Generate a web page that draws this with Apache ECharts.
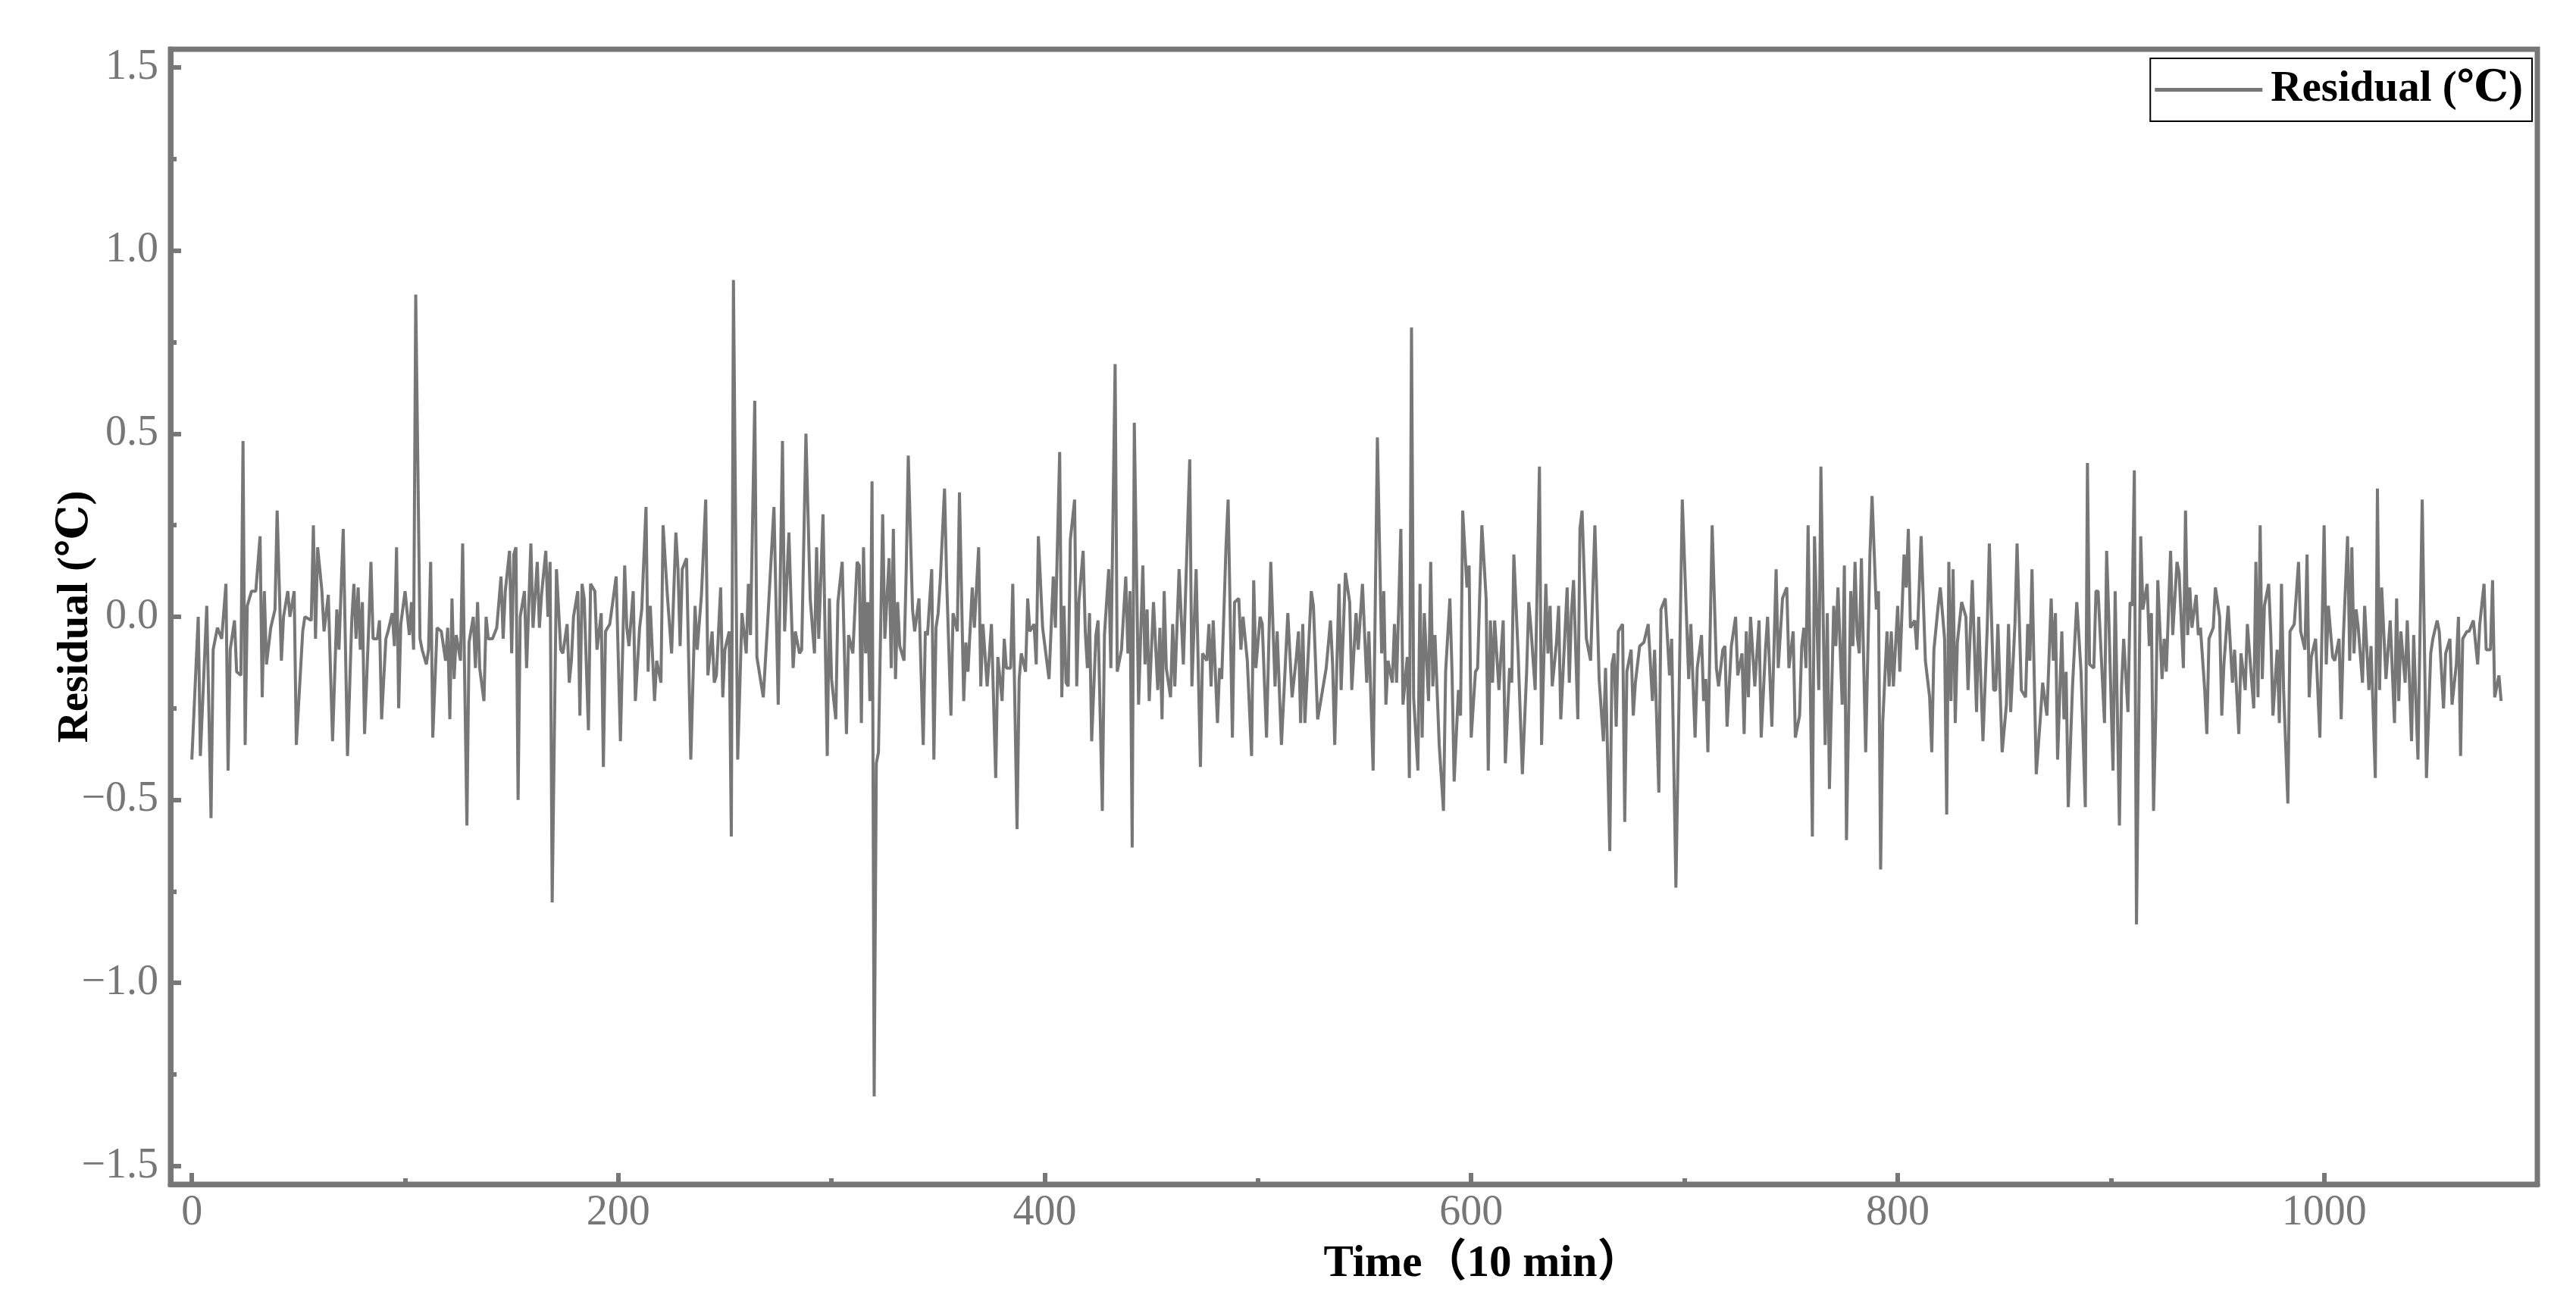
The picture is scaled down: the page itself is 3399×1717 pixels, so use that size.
<!DOCTYPE html>
<html>
<head>
<meta charset="utf-8">
<script src="https://cdn.jsdelivr.net/npm/echarts@6/dist/echarts.min.js"></script>
<style>
html,body{margin:0;padding:0;background:#fff;}
#chart{width:3399px;height:1717px;}
</style>
</head>
<body>
<div id="chart"></div>
<script>
const timeA = [0,3,4,7,9,10,12,14,16,17,
  18,20,21,23,24,25,26,28,30,32,
  33,34,35,37,39,40,42,43,45,46,
  48,49,52,53,56,57,58,59,61,62,
  64,66,68,69,71,73,75,76,77,78,
  79,80,81,83,84,85,87,88,89,91,
  92,94,95,96,97,98,100,102,103,104,
  105,107,108,110,111,112,113,115,117,119,
  120,121,122,123,124,126,127,129,130,132,
  133];
const residualA = [-0.39,0.00,-0.38,0.03,-0.55,-0.09,-0.03,-0.06,0.09,-0.42,
  -0.09,-0.01,-0.15,-0.16,0.48,-0.35,0.03,0.07,0.07,0.22,
  -0.22,0.07,-0.13,-0.03,0.02,0.29,-0.12,0.00,0.07,0.00,
  0.07,-0.35,-0.04,0.00,-0.01,0.25,-0.06,0.19,0.07,-0.04,
  0.06,-0.34,0.02,-0.09,0.24,-0.38,-0.01,0.09,-0.06,0.08,
  -0.09,0.04,-0.32,-0.02,0.15,-0.06,-0.06,-0.01,-0.28,-0.06,
  -0.04,0.01,-0.08,0.19,-0.25,-0.02,0.07,-0.05,0.04,-0.09,
  0.88,-0.06,-0.09,-0.13,-0.09,0.15,-0.33,-0.03,-0.04,-0.12,
  -0.03,-0.28,0.05,-0.17,-0.05,-0.12,0.20,-0.57,-0.07,0.00,
  -0.14];

const timeB = [134,135,137,138,139,141,143,145,146,147,
  149,150,151,152,153,154,156,157,159,160,
  162,163,164,166,167,168,169,171,173,174,
  176,177,178,179,181,182,183,184,186,187,
  189,190,192,193,194,196,199,201,203,204,
  205,207,208,210,211,213,214,215,217,218,
  220,221,223,225,227,228,229,230,232,234,
  236,237,239,241,242,244,245,246,248,249,
  250,252,253,254,256,258,260,261,262,264,
  265,268,270];
const residualB = [0.04,-0.14,-0.23,0.00,-0.06,-0.06,-0.03,0.11,-0.06,0.07,
  0.18,-0.10,0.17,0.19,-0.50,0.00,0.07,-0.14,0.20,-0.03,
  0.15,-0.03,0.06,0.18,0.00,0.15,-0.78,0.13,-0.09,-0.10,
  -0.02,-0.18,-0.12,0.00,0.07,-0.27,0.09,0.05,-0.31,0.09,
  0.07,-0.09,0.01,-0.41,-0.04,-0.02,0.11,-0.34,0.14,-0.03,
  -0.08,0.07,-0.23,-0.03,0.02,0.30,-0.15,0.03,-0.23,-0.12,
  -0.18,0.25,0.06,-0.10,0.23,0.13,-0.08,0.13,0.16,-0.39,
  0.03,-0.09,0.06,0.32,-0.16,-0.04,-0.18,-0.16,0.08,-0.22,
  -0.09,-0.04,-0.60,0.92,-0.39,0.01,-0.10,0.09,-0.05,0.59,
  -0.11,-0.22,-0.02];

const timeC = [273,275,277,278,280,282,283,285,286,288,
  290,292,293,294,296,298,299,300,302,303,
  305,307,308,310,312,313,314,315,316,317,
  318,319,320,321,322,324,325,327,328,329,
  330,331,332,334,335,336,338,339,341,343,
  344,345,347,348,349,350,351,353,354,356,
  357,359,360,362,363,364,366,367,369,370,
  371,373,375,377,378,380,381,382,384,385,
  387,388,389,391,392,393,395,396,397,399,
  402,404,405,407,408,409,410];
const residualC = [0.30,-0.24,0.48,-0.04,0.23,-0.14,-0.04,-0.10,-0.09,0.50,
  0.05,-0.10,0.19,-0.06,0.28,-0.38,0.05,-0.17,-0.28,0.04,
  0.15,-0.32,-0.05,-0.10,0.15,0.14,-0.29,0.19,-0.10,0.04,
  -0.23,0.37,-1.31,-0.40,-0.37,0.28,-0.06,0.16,-0.14,0.24,
  -0.17,0.04,-0.08,-0.12,0.12,0.44,0.02,-0.04,0.05,-0.35,
  -0.04,-0.05,0.13,-0.39,-0.03,0.01,0.10,0.35,0.10,-0.27,
  0.01,-0.04,0.34,-0.23,-0.07,-0.15,0.08,-0.03,0.19,-0.19,
  -0.02,-0.19,-0.02,-0.44,-0.11,-0.23,-0.06,-0.14,-0.14,0.09,
  -0.58,-0.17,-0.10,-0.15,0.05,-0.04,-0.02,-0.13,0.22,-0.03,
  -0.17,0.11,-0.03,0.45,-0.22,0.03,-0.18];

const timeD = [411,412,414,415,416,418,419,420,421,422,
  424,425,427,428,430,431,433,434,436,438,
  439,440,441,442,444,446,447,448,449,451,
  453,454,455,456,457,459,460,461,463,465,
  468,469,471,473,474,476,477,478,479,481,
  482,483,485,486,488,489,491,492,493,495,
  497,498,499,501,502,504,506,508,509,511,
  514,516,518,519,520,521,522,525,526,528,
  530,532,534,535,536,538,539,541,543,544,
  546,547,549];
const residualD = [-0.19,0.21,0.32,-0.19,0.04,0.18,-0.04,-0.14,0.01,-0.34,
  -0.05,-0.01,-0.53,-0.05,0.13,-0.14,0.69,-0.15,-0.09,0.11,
  -0.10,0.07,-0.63,0.53,-0.24,0.14,-0.13,0.02,-0.23,0.04,
  -0.20,-0.03,-0.28,0.07,-0.14,-0.22,-0.02,-0.19,0.13,-0.13,
  0.43,-0.19,0.13,-0.41,-0.10,-0.12,-0.02,-0.19,-0.01,-0.29,
  -0.14,-0.17,0.19,0.32,-0.33,0.04,0.05,-0.09,0.00,-0.12,
  -0.38,0.10,-0.14,0.00,-0.02,-0.33,0.15,-0.19,-0.04,-0.35,
  0.01,-0.22,-0.11,-0.04,-0.29,-0.02,-0.29,0.07,0.03,-0.28,
  -0.21,-0.14,-0.01,-0.13,-0.35,0.09,-0.20,0.12,0.04,-0.20,
  0.01,-0.09,0.09];

const timeE = [551,552,554,556,558,559,560,561,563,564,
  565,567,568,570,571,572,573,575,576,577,
  578,580,581,582,583,585,587,588,590,591,
  592,594,595,596,598,599,600,602,603,604,
  605,607,608,609,610,611,613,614,615,616,
  618,619,620,622,624,626,627,628,630,632,
  633,635,636,637,638,640,641,642,644,645,
  646,647,648,650,651,652,654,656,658,660,
  662,663,665,666,667,668,669,671,672,673,
  675,676,677,679,681,683,685,686];
const residualE = [-0.18,-0.04,-0.42,0.49,-0.10,0.07,-0.24,-0.12,-0.18,-0.02,
  -0.18,0.24,-0.24,-0.11,-0.44,0.79,-0.22,-0.42,0.09,-0.33,
  0.01,-0.23,0.15,-0.19,-0.05,-0.35,-0.53,-0.15,0.05,-0.15,
  -0.45,-0.20,-0.27,0.29,0.08,0.14,-0.33,-0.15,-0.14,0.06,
  0.25,0.05,-0.42,-0.01,-0.18,-0.01,-0.20,-0.10,-0.01,-0.40,
  -0.14,-0.18,0.17,-0.10,-0.43,-0.15,0.04,-0.03,-0.20,0.41,
  -0.35,0.09,-0.10,0.03,-0.19,-0.07,0.03,-0.28,-0.04,0.08,
  -0.18,0.01,0.10,-0.28,0.24,0.29,-0.06,-0.12,0.25,-0.17,
  -0.34,-0.14,-0.64,-0.13,-0.10,-0.30,-0.04,-0.02,-0.56,-0.15,
  -0.09,-0.27,-0.18,-0.08,-0.07,-0.02,-0.23,-0.09];

const timeF = [688,689,691,693,694,696,699,702,703,705,
  706,708,709,710,711,713,715,716,718,719,
  720,722,724,725,727,728,729,730,731,733,
  735,736,738,739,741,743,744,746,748,749,
  751,752,754,755,756,757,758,760,761,763,
  764,766,767,768,770,771,772,774,775,776,
  778,779,780,781,782,783,785,787,788,790,
  791,792,793,795,796,797,798,800,801,803,
  804,805,806,808,809,811,813,815,816,817,
  819,820,822,823,824,825];
const residualF = [-0.48,0.02,0.05,-0.16,-0.06,-0.74,0.32,-0.17,-0.02,-0.33,
  -0.14,-0.05,-0.23,-0.17,-0.37,0.25,-0.14,-0.19,-0.09,-0.08,
  -0.30,-0.08,0.00,-0.16,-0.10,-0.32,-0.04,-0.22,0.00,-0.19,
  -0.01,-0.33,-0.09,0.00,-0.30,0.13,-0.14,0.05,0.08,-0.14,
  -0.04,-0.33,-0.27,-0.08,-0.03,-0.14,0.25,-0.60,0.22,-0.20,
  0.41,-0.35,0.01,-0.47,0.03,-0.08,0.08,-0.24,0.14,-0.61,
  0.07,-0.08,0.15,-0.05,-0.10,0.16,-0.37,0.17,0.33,0.02,
  0.07,-0.69,-0.29,-0.04,-0.19,-0.04,-0.19,0.03,-0.15,0.17,
  0.08,0.24,-0.03,-0.01,-0.09,0.22,-0.12,-0.22,-0.37,-0.09,
  0.03,0.08,-0.06,-0.54,0.15,-0.23];

const timeG = [826,827,828,830,832,833,835,837,838,840,
  842,843,845,846,847,849,851,852,853,855,
  856,858,860,861,862,863,865,867,868,870,
  872,873,874,875,877,878,879,880,882,884,
  886,888,889,890,892,893,894,897,898,899,
  901,902,904,905,906,908,909,910,911,912,
  914,915,917,918,919,920,921,922,924,925,
  926,928,929,931,932,934,935,936,937,938,
  940,941,942,944,945,946,948,949,951,952,
  953,955,957,958,960,961,963,964];
const residualG = [0.13,-0.29,-0.07,0.04,0.00,-0.20,0.10,-0.26,0.00,-0.34,
  -0.03,0.20,-0.20,-0.20,-0.02,-0.37,-0.24,-0.02,-0.26,-0.02,
  0.20,-0.20,-0.22,-0.02,-0.12,0.13,-0.43,-0.27,-0.18,-0.27,
  0.05,-0.12,0.01,-0.39,-0.04,-0.28,-0.15,-0.52,-0.19,0.04,
  -0.15,-0.52,0.42,-0.13,-0.14,0.07,0.07,-0.29,0.18,0.00,
  -0.42,0.07,-0.57,-0.19,-0.06,-0.26,0.04,0.03,0.40,-0.84,
  0.22,0.02,0.09,-0.08,0.01,-0.53,-0.28,0.10,-0.17,-0.06,
  -0.15,0.18,-0.05,0.15,0.12,-0.14,0.29,-0.05,0.08,-0.03,
  0.06,-0.05,-0.03,-0.20,-0.32,-0.06,-0.03,0.08,0.00,-0.27,
  -0.13,0.03,-0.18,-0.09,-0.32,-0.10,-0.20,-0.02];

const timeH = [967,968,969,970,971,972,974,975,976,978,
  979,980,981,983,984,986,988,989,991,992,
  993,994,996,998,1000,1001,1002,1004,1005,1007,
  1008,1009,1011,1012,1013,1014,1015,1016,1018,1019,
  1021,1022,1024,1025,1026,1027,1029,1031,1033,1034,
  1035,1036,1038,1039,1041,1042,1044,1046,1048,1050,
  1051,1053,1054,1056,1057,1059,1060,1062,1063,1064,
  1065,1067,1068,1070,1072,1073,1075,1076,1078,1079,
  1080,1082,1083];
const residualH = [-0.25,0.15,-0.22,0.25,-0.17,0.03,0.09,-0.05,-0.27,-0.09,
  -0.29,0.09,-0.20,-0.51,-0.04,-0.02,0.15,-0.04,-0.09,0.17,
  -0.22,-0.11,-0.06,-0.33,0.25,-0.13,0.03,-0.11,-0.12,-0.06,
  -0.28,-0.06,0.22,-0.12,0.19,-0.10,0.02,-0.03,-0.18,0.03,
  -0.20,-0.08,-0.44,0.35,-0.20,0.08,-0.17,-0.01,-0.29,0.05,
  -0.23,-0.04,-0.18,-0.01,-0.34,-0.05,-0.39,0.32,-0.44,-0.10,
  -0.06,-0.01,-0.04,-0.25,-0.10,-0.06,-0.24,-0.13,0.00,-0.38,
  -0.06,-0.04,-0.04,-0.01,-0.13,-0.02,0.09,-0.09,-0.09,0.10,
  -0.22,-0.16,-0.23];

const xTickValues = [0, 200, 400, 600, 800, 1000];
const xMinorTickValues = [100, 300, 500, 700, 900];
const yTickValues = [-1.5, -1.0, -0.5, 0.0, 0.5, 1.0, 1.5];
const yMinorTickValues = [-1.25, -0.75, -0.25, 0.25, 0.75, 1.25];

const seriesName = 'Residual (℃)';
const xName = 'Time（10 min）';
const yName = 'Residual (℃)';

// ---- assemble ----
const segments = [
  ['A', timeA, residualA], ['B', timeB, residualB], ['C', timeC, residualC],
  ['D', timeD, residualD], ['E', timeE, residualE], ['F', timeF, residualF],
  ['G', timeG, residualG], ['H', timeH, residualH]
];
const points = [];
segments.forEach(([n, t, r]) => {
  if (t.length !== r.length) throw new Error('segment ' + n + ' length mismatch ' + t.length + ' vs ' + r.length);
  t.forEach((tv, i) => points.push([tv, r[i]]));
});
for (let i = 1; i < points.length; i++) {
  if (points[i][0] <= points[i - 1][0]) throw new Error('time not increasing at ' + points[i][0]);
}

const GRAY = '#777777';
const FONT = '"Liberation Serif", "DejaVu Serif", "Noto Sans CJK SC", serif';
const fmtY = v => (v < 0 ? '\u2212' + Math.abs(v).toFixed(1) : v.toFixed(1));
const fmtX = v => String(v);

const chart = echarts.init(document.getElementById('chart'), null, { renderer: 'canvas' });
chart.setOption({
  animation: false,
  backgroundColor: '#ffffff',
  grid: {
    left: 225, right: 51, top: 65, bottom: 154,
    show: true, borderColor: GRAY, borderWidth: 7, backgroundColor: 'transparent'
  },
  legend: {
    data: [{ name: seriesName, icon: 'rect' }],
    right: 58, top: 77,
    orient: 'horizontal',
    borderColor: '#000', borderWidth: 2,
    padding: [13, 12, 13, 6],
    itemWidth: 142, itemHeight: 5,
    itemStyle: { color: GRAY },
    textStyle: { fontFamily: FONT, fontSize: 57, fontWeight: 'bold', color: '#000', padding: [0, 0, 0, 6] }
  },
  xAxis: [
    {
      type: 'value', min: -10, max: 1100, position: 'bottom',
      axisLine: { show: true, onZero: false, lineStyle: { color: GRAY, width: 7 } },
      axisTick: { show: true, inside: true, length: 15, customValues: xTickValues, lineStyle: { color: GRAY, width: 6 } },
      axisLabel: { customValues: xTickValues, formatter: fmtX, color: GRAY, fontFamily: FONT, fontSize: 56, margin: 10 },
      splitLine: { show: false },
      name: xName, nameLocation: 'middle', nameGap: 76, nameMoveOverlap: false,
      nameTextStyle: { fontFamily: FONT, fontSize: 59, fontWeight: 'bold', color: '#000', padding: [0, 0, 0, 340] }
    },
    {
      type: 'value', min: -10, max: 1100, position: 'bottom',
      axisLine: { show: false, onZero: false },
      axisTick: { show: true, inside: true, length: 8, customValues: xMinorTickValues, lineStyle: { color: GRAY, width: 6 } },
      axisLabel: { show: false },
      splitLine: { show: false }
    }
  ],
  yAxis: [
    {
      type: 'value', min: -1.55, max: 1.55, position: 'left',
      axisLine: { show: true, onZero: false, lineStyle: { color: GRAY, width: 7 } },
      axisTick: { show: true, inside: true, length: 14, customValues: yTickValues, lineStyle: { color: GRAY, width: 6 } },
      axisLabel: { customValues: yTickValues, formatter: fmtY, color: GRAY, fontFamily: FONT, fontSize: 56, margin: 16 },
      splitLine: { show: false },
      name: yName, nameLocation: 'middle', nameGap: 96, nameRotate: 90, nameMoveOverlap: false,
      nameTextStyle: { fontFamily: FONT, fontSize: 57, fontWeight: 'bold', color: '#000' }
    },
    {
      type: 'value', min: -1.55, max: 1.55, position: 'left',
      axisLine: { show: false, onZero: false },
      axisTick: { show: true, inside: true, length: 8, customValues: yMinorTickValues, lineStyle: { color: GRAY, width: 6 } },
      axisLabel: { show: false },
      splitLine: { show: false }
    }
  ],
  series: [{
    name: seriesName,
    type: 'line',
    xAxisIndex: 0, yAxisIndex: 0,
    data: points,
    symbol: 'none',
    lineStyle: { color: GRAY, width: 4 },
    itemStyle: { color: GRAY },
    z: 3
  }]
});
</script>
</body>
</html>
